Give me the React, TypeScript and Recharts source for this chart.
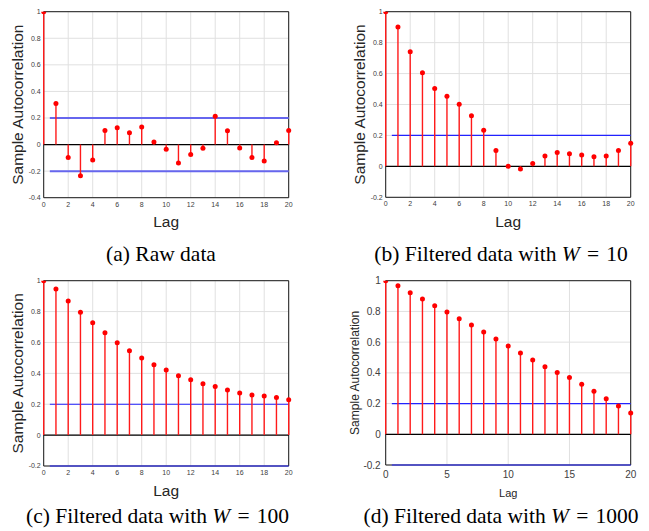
import React from "react"
import {
  ComposedChart,
  Scatter,
  XAxis,
  YAxis,
  CartesianGrid,
  ReferenceLine,
  ReferenceArea,
} from "recharts"

// lags 0..20
const lags = [0, 1, 2, 3, 4, 5, 6, 7, 8, 9, 10, 11, 12, 13, 14, 15, 16, 17, 18, 19, 20]

// sample autocorrelation
const acfRaw = [1, 0.309, -0.098, -0.234, -0.116, 0.106, 0.126, 0.088, 0.133, 0.02, -0.035, -0.138, -0.075, -0.028, 0.214, 0.103, -0.025, -0.098, -0.123, 0.013, 0.106]
const acfW10 = [1, 0.901, 0.741, 0.606, 0.504, 0.453, 0.401, 0.328, 0.233, 0.103, 0.0, -0.017, 0.019, 0.067, 0.09, 0.082, 0.073, 0.062, 0.067, 0.103, 0.149]
const acfW100 = [1, 0.946, 0.868, 0.795, 0.728, 0.663, 0.598, 0.546, 0.499, 0.456, 0.421, 0.384, 0.359, 0.333, 0.315, 0.292, 0.272, 0.259, 0.253, 0.244, 0.229]
const acfW1000 = [1, 0.967, 0.922, 0.881, 0.837, 0.796, 0.753, 0.711, 0.666, 0.62, 0.575, 0.529, 0.484, 0.44, 0.403, 0.369, 0.325, 0.28, 0.232, 0.184, 0.139]

// confidence bounds start at lag 0.5
const confBound = 0.2
const boundStart = 0.5

const lagTicksFine = [0, 2, 4, 6, 8, 10, 12, 14, 16, 18, 20]
const lagTicksCoarse = [0, 5, 10, 15, 20]
const acfTicksRaw = [-0.4, -0.2, 0, 0.2, 0.4, 0.6, 0.8, 1]
const acfTicks = [-0.2, 0, 0.2, 0.4, 0.6, 0.8, 1]

const sans = "'Liberation Sans', Arial, Helvetica, sans-serif"
const serif = "'Liberation Serif', 'Times New Roman', serif"

const fmt = (v: number) => String(Math.round(v * 10) / 10)

interface PanelProps {
  left: number
  top: number
  width: number
  height: number
  margin: { top: number; right: number; bottom: number; left: number }
  yAxisWidth: number
  xAxisHeight: number
  values: number[]
  xTicks: number[]
  yTicks: number[]
  tickFont: number
  labelFont: number
  yLabelFont: number
  yLabelX: number
  xTickGap: number
  yTickGap: number
  boundColor: string
  boundWidth: number
  showLower: boolean
}

function AcfPanel(p: PanelProps) {
  const data = lags.map((lag, i) => ({ lag, acf: p.values[i] }))
  const yMin = p.yTicks[0]
  const yMax = p.yTicks[p.yTicks.length - 1]
  const tick = { fontSize: p.tickFont, fill: "#404040", fontFamily: sans }

  return (
    <div style={{ position: "absolute", left: p.left, top: p.top }}>
      <ComposedChart width={p.width} height={p.height} data={data} margin={p.margin}>
        <CartesianGrid stroke="#e0e0e0" strokeWidth={1} />
        <XAxis
          dataKey="lag"
          type="number"
          domain={[0, 20]}
          ticks={p.xTicks}
          interval={0}
          height={p.xAxisHeight}
          axisLine={false}
          tickLine={false}
          tickSize={0}
          tickMargin={p.xTickGap}
          tick={tick}
          label={{
            content: (props: any) => {
              const vb = props.viewBox
              return (
                <text
                  x={vb.x + vb.width / 2}
                  y={vb.y + vb.height}
                  textAnchor="middle"
                  fontSize={p.labelFont}
                  fontFamily={sans}
                  fill="#262626"
                >
                  Lag
                </text>
              )
            },
          }}
        />
        <YAxis
          type="number"
          domain={[yMin, yMax]}
          ticks={p.yTicks}
          interval={0}
          width={p.yAxisWidth}
          axisLine={false}
          tickLine={false}
          tickSize={0}
          tickMargin={p.yTickGap}
          tick={tick}
          tickFormatter={fmt}
          allowDataOverflow
          label={{
            content: (props: any) => {
              const vb = props.viewBox
              const cx = p.yLabelX
              const cy = vb.y + vb.height / 2
              return (
                <text
                  x={cx}
                  y={cy}
                  dy="0.36em"
                  transform={`rotate(-90 ${cx} ${cy})`}
                  textAnchor="middle"
                  fontSize={p.yLabelFont}
                  fontFamily={sans}
                  fill="#262626"
                >
                  Sample Autocorrelation
                </text>
              )
            },
          }}
        />
        <ReferenceArea
          x1={0}
          x2={20}
          y1={yMin}
          y2={yMax}
          fill="none"
          stroke="#1a1a1a"
          strokeWidth={1}
          ifOverflow="visible"
        />
        <ReferenceLine
          segment={[{ x: boundStart, y: confBound }, { x: 20, y: confBound }]}
          stroke={p.boundColor}
          strokeWidth={p.boundWidth}
        />
        {p.showLower && (
          <ReferenceLine
            segment={[{ x: boundStart, y: -confBound }, { x: 20, y: -confBound }]}
            stroke={p.boundColor}
            strokeWidth={p.boundWidth}
            ifOverflow="visible"
          />
        )}
        <ReferenceLine
          segment={[{ x: 0, y: 0 }, { x: 20, y: 0 }]}
          stroke="#000"
          strokeWidth={1.2}
        />
        {data.map((d) => (
          <ReferenceLine
            key={d.lag}
            segment={[{ x: d.lag, y: 0 }, { x: d.lag, y: d.acf }]}
            stroke="#ff1a1a"
            strokeWidth={1.4}
            ifOverflow="visible"
          />
        ))}
        <Scatter
          dataKey="acf"
          isAnimationActive={false}
          shape={(s: any) => <circle cx={s.cx} cy={s.cy} r={2.5} fill="#ff0000" />}
        />
      </ComposedChart>
    </div>
  )
}

export default function App() {
  return (
    <div
      style={{
        position: "absolute",
        left: 0,
        top: 0,
        width: 649,
        height: 531,
        background: "#fff",
        overflow: "hidden",
      }}
    >
      <AcfPanel
        left={0}
        top={0}
        width={300}
        height={240}
        margin={{ top: 11.7, right: 11.3, bottom: 13.3, left: 13.7 }}
        yAxisWidth={30}
        xAxisHeight={29}
        values={acfRaw}
        xTicks={lagTicksFine}
        yTicks={acfTicksRaw}
        tickFont={7}
        labelFont={15.5}
        yLabelFont={15.5}
        yLabelX={17}
        xTickGap={4}
        yTickGap={3}
        boundColor="#6666ee"
        boundWidth={2}
        showLower={true}
      />
      <AcfPanel
        left={330}
        top={0}
        width={319}
        height={240}
        margin={{ top: 11.7, right: 18.3, bottom: 12.7, left: 25.7 }}
        yAxisWidth={30}
        xAxisHeight={30}
        values={acfW10}
        xTicks={lagTicksFine}
        yTicks={acfTicks}
        tickFont={7}
        labelFont={15.5}
        yLabelFont={15.5}
        yLabelX={29}
        xTickGap={4}
        yTickGap={3}
        boundColor="#2222ff"
        boundWidth={1.2}
        showLower={false}
      />
      <AcfPanel
        left={0}
        top={270}
        width={300}
        height={230}
        margin={{ top: 10.7, right: 11.3, bottom: 4.4, left: 13.7 }}
        yAxisWidth={30}
        xAxisHeight={29.6}
        values={acfW100}
        xTicks={lagTicksFine}
        yTicks={acfTicks}
        tickFont={7}
        labelFont={15.5}
        yLabelFont={15.5}
        yLabelX={17}
        xTickGap={4}
        yTickGap={3}
        boundColor="#2222ff"
        boundWidth={1.2}
        showLower={true}
      />
      <AcfPanel
        left={330}
        top={270}
        width={319}
        height={230}
        margin={{ top: 10.7, right: 18.3, bottom: 3.3, left: 17.7 }}
        yAxisWidth={38}
        xAxisHeight={31.7}
        values={acfW1000}
        xTicks={lagTicksCoarse}
        yTicks={acfTicks}
        tickFont={10}
        labelFont={11}
        yLabelFont={12}
        yLabelX={25}
        xTickGap={6}
        yTickGap={5}
        boundColor="#2222ff"
        boundWidth={1.2}
        showLower={true}
      />
      <svg
        width={649}
        height={531}
        style={{ position: "absolute", left: 0, top: 0, pointerEvents: "none" }}
      >
        <g fontFamily={serif} fontSize={21.5} fill="#000" textAnchor="middle">
          <text x={161} y={260.7}>(a) Raw data</text>
          <text x={501} y={260.7}>
            (b) Filtered data with <tspan fontStyle="italic">W</tspan>{"\u2004=\u2004"}10
          </text>
          <text x={157.5} y={522.7}>
            (c) Filtered data with <tspan fontStyle="italic">W</tspan>{"\u2004=\u2004"}100
          </text>
          <text x={501} y={522.7}>
            (d) Filtered data with <tspan fontStyle="italic">W</tspan>{"\u2004=\u2004"}1000
          </text>
        </g>
      </svg>
    </div>
  )
}
